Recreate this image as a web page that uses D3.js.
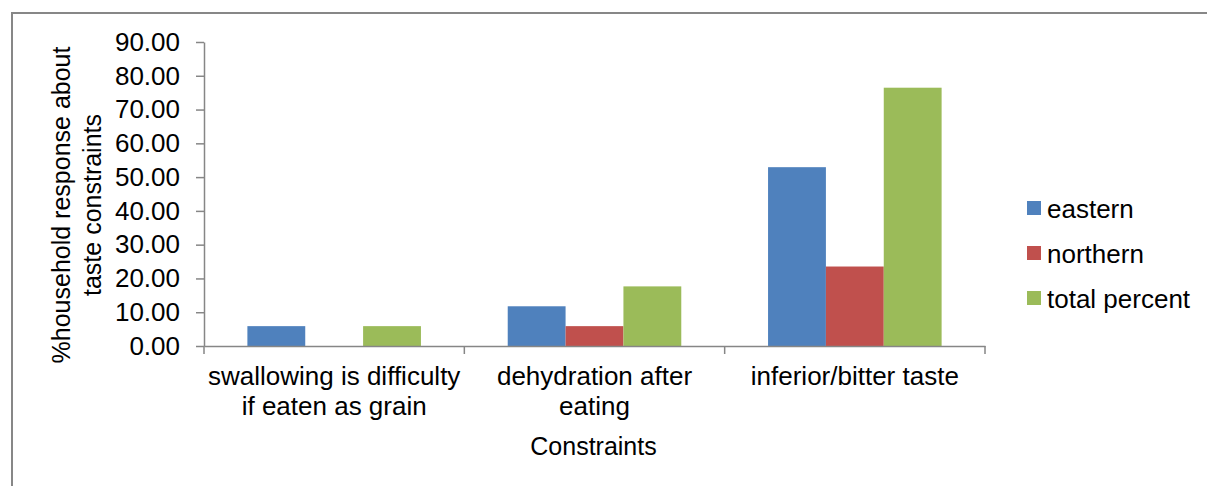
<!DOCTYPE html>
<html>
<head>
<meta charset="utf-8">
<script src="https://cdn.jsdelivr.net/npm/d3@7"></script>
<style>
  html, body { margin: 0; padding: 0; background: #fff; }
  svg { display: block; font-family: "Liberation Sans", Arial, sans-serif; }
</style>
</head>
<body>
<div id="chart"></div>
<script>
// ---- data ----
const categories = ["swallowing is difficulty if eaten as grain", "dehydration after eating", "inferior/bitter taste"];
const seriesNames = ["eastern", "northern", "total percent"];
const eastern = [5.88, 11.76, 52.94];
const northern = [0, 5.88, 23.53];
const totalPercent = [5.88, 17.65, 76.47];
const yTicks = [0, 10, 20, 30, 40, 50, 60, 70, 80, 90];

const seriesValues = [eastern, northern, totalPercent];
const colors = ["#4F81BD", "#C0504D", "#9BBB59"];

// ---- layout ----
const W = 1207, H = 486;
const plot = { left: 204, right: 985, top: 42, bottom: 346 };

const svg = d3.select("#chart").append("svg")
  .attr("width", W).attr("height", H);

// outer chart border (left + top visible)
svg.append("path")
  .attr("d", `M12,${H} L12,13 L${W},13`)
  .attr("fill", "none")
  .attr("stroke", "#878787")
  .attr("stroke-width", 2);

const x0 = d3.scaleBand().domain(categories).range([plot.left, plot.right]).paddingInner(0).paddingOuter(0);
const x1 = d3.scaleBand().domain(seriesNames).range([0, x0.bandwidth()]).paddingInner(0).paddingOuter(0.75);
const y = d3.scaleLinear().domain([0, 90]).range([plot.bottom, plot.top]);

// bars
const rows = categories.map((c, i) => ({ cat: c, vals: seriesNames.map((s, j) => ({ s, v: seriesValues[j][i], c: colors[j] })) }));
const groups = svg.selectAll(".grp").data(rows).enter().append("g")
  .attr("transform", d => `translate(${x0(d.cat)},0)`);
groups.selectAll("rect").data(d => d.vals.filter(v => v.v > 0)).enter().append("rect")
  .attr("x", d => x1(d.s))
  .attr("width", x1.bandwidth())
  .attr("y", d => y(d.v))
  .attr("height", d => y(0) - y(d.v))
  .attr("fill", d => d.c);

// y axis
const yAxis = svg.append("g")
  .attr("transform", `translate(${plot.left},0)`)
  .call(d3.axisLeft(y).tickValues(yTicks).tickFormat(d3.format(".2f")).tickSize(8).tickSizeOuter(0).tickPadding(16));
yAxis.select(".domain").attr("stroke", "#868686").attr("stroke-width", 1.5);
yAxis.selectAll(".tick line").attr("stroke", "#868686").attr("stroke-width", 1.5);
yAxis.selectAll(".tick text").attr("font-size", 26).attr("fill", "#000").attr("font-family", "Liberation Sans, Arial, sans-serif");

// x axis
const xAxis = svg.append("g")
  .attr("transform", `translate(0,${plot.bottom})`)
  .call(d3.axisBottom(x0).tickSize(0).tickFormat(""));
xAxis.select(".domain").attr("stroke", "#868686").attr("stroke-width", 1.5);
xAxis.selectAll(".tick").remove();

// category boundary ticks
const bounds = [plot.left].concat(categories.map(c => x0(c) + x0.bandwidth()));
svg.selectAll(".xtick").data(bounds).enter().append("line")
  .attr("x1", d => d).attr("x2", d => d)
  .attr("y1", plot.bottom).attr("y2", plot.bottom + 8)
  .attr("stroke", "#868686").attr("stroke-width", 1.5);

// category labels (wrapped)
svg.selectAll(".xlab").data(categories).enter().append("text")
  .attr("x", d => x0(d) + x0.bandwidth() / 2)
  .attr("y", 385)
  .attr("text-anchor", "middle")
  .attr("font-size", 26)
  .text(d => d)
  .call(wrap, 262);

// axis titles
svg.append("text")
  .attr("x", (plot.left + plot.right) / 2 - 1)
  .attr("y", 455)
  .attr("text-anchor", "middle")
  .attr("font-size", 25)
  .text("Constraints");

const yTitle = svg.append("text")
  .attr("transform", "translate(70,205) rotate(-90)")
  .attr("text-anchor", "middle")
  .attr("font-size", 25);
yTitle.append("tspan").attr("x", 0).attr("dy", 0).text("%household response about");
yTitle.append("tspan").attr("x", 0).attr("dy", 31).text("taste constraints");

// legend
const legend = svg.selectAll(".leg").data(seriesNames).enter().append("g")
  .attr("transform", (d, i) => `translate(1027,${201 + i * 45})`);
legend.append("rect").attr("width", 14).attr("height", 14).attr("fill", (d, i) => colors[i]);
legend.append("text").attr("x", 20).attr("y", 17).attr("font-size", 26).text(d => d);

function wrap(text, width) {
  text.each(function () {
    const t = d3.select(this);
    const words = t.text().split(/\s+/).reverse();
    const x = t.attr("x");
    let line = [];
    let word;
    let tspan = t.text(null).append("tspan").attr("x", x).attr("dy", 0);
    while (word = words.pop()) {
      line.push(word);
      tspan.text(line.join(" "));
      if (tspan.node().getComputedTextLength() > width && line.length > 1) {
        line.pop();
        tspan.text(line.join(" "));
        line = [word];
        tspan = t.append("tspan").attr("x", x).attr("dy", 30).text(word);
      }
    }
  });
}
</script>
</body>
</html>
